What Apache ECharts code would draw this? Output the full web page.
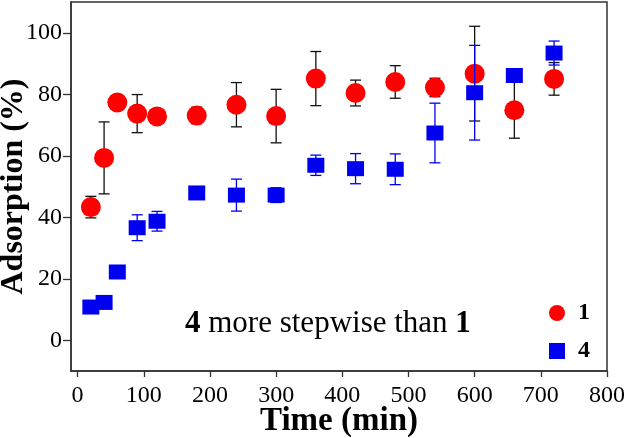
<!DOCTYPE html>
<html><head><meta charset="utf-8">
<script src="https://cdn.jsdelivr.net/npm/echarts@6/dist/echarts.min.js"></script>
<style>html,body{margin:0;padding:0;background:#fff}#c{width:634px;height:438px}</style>
</head><body><div id="c"></div>
<script>
const FONT = '"Liberation Serif", "Times New Roman", serif';
const times = [20, 40, 60, 90, 120, 180, 240, 300, 360, 420, 480, 540, 600, 660, 720];
const values1 = [43.3, 59.3, 77.3, 73.7, 72.8, 73.1, 76.6, 72.9, 85.1, 80.4, 84.0, 82.2, 86.7, 74.8, 85.0];
const errors1 = [3.5, 11.7, 2.0, 6.2, 2.0, 2.7, 7.2, 8.7, 8.8, 4.2, 5.3, 3.0, 15.4, 9.1, 5.3];
const values4 = [10.8, 12.3, 22.2, 36.6, 38.7, 47.9, 47.2, 47.2, 56.9, 55.8, 55.6, 67.4, 80.5, 86.1, 93.4];
const errors4 = [2.0, 2.0, 2.0, 4.2, 3.2, 2.0, 5.2, 2.4, 3.3, 4.9, 5.0, 9.7, 15.4, 2.0, 3.9];
const xTicks = [0, 100, 200, 300, 400, 500, 600, 700, 800];
const yTicks = [0, 20, 40, 60, 80, 100];
const seriesNames = ['1', '4'];

function errRender(color) {
  return function (params, api) {
    const x = api.value(0), y = api.value(1), e = api.value(2);
    const t = api.coord([x, y + e]), b = api.coord([x, y - e]);
    const hw = 5.5;
    const st = { stroke: color, lineWidth: 1.3 };
    return { type: 'group', children: [
      { type: 'line', shape: { x1: t[0], y1: t[1], x2: b[0], y2: b[1] }, style: st },
      { type: 'line', shape: { x1: t[0] - hw, y1: t[1], x2: t[0] + hw, y2: t[1] }, style: st },
      { type: 'line', shape: { x1: b[0] - hw, y1: b[1], x2: b[0] + hw, y2: b[1] }, style: st }
    ]};
  };
}

const chart = echarts.init(document.getElementById('c'), null, { renderer: 'canvas' });
chart.setOption({
  animation: false,
  backgroundColor: '#fff',
  grid: { left: 71, right: 27, top: 2, bottom: 67, show: true, borderColor: '#333', borderWidth: 1.5,
          backgroundColor: 'transparent', containLabel: false, outerBoundsMode: 'none' },
  title: {
    left: 180, top: 303,
    text: '{b|4} {n|more stepwise than} {b|1}',
    textStyle: {
      fontFamily: FONT, fontSize: 31, color: '#000',
      rich: {
        b: { fontFamily: FONT, fontSize: 31, fontWeight: 'bold', color: '#000' },
        n: { fontFamily: FONT, fontSize: 31, fontWeight: 'normal', color: '#000' }
      }
    }
  },
  legend: {
    orient: 'vertical', left: 544, top: 296, itemWidth: 16, itemHeight: 16, itemGap: 14,
    textStyle: { fontFamily: FONT, fontWeight: 'bold', fontSize: 24, color: '#000', padding: [0, 0, 0, 8] },
    data: [{ name: seriesNames[0], icon: 'circle' }, { name: seriesNames[1], icon: 'rect' }]
  },
  xAxis: {
    type: 'value', min: -10, max: 800,
    name: 'Time (min)', nameLocation: 'middle', nameGap: 34, nameMoveOverlap: false,
    nameTextStyle: { fontFamily: FONT, fontWeight: 'bold', fontSize: 33, color: '#000' },
    axisLine: { show: true, onZero: false, lineStyle: { color: '#333', width: 1.5 } },
    axisTick: { show: true, length: 6, customValues: xTicks, lineStyle: { color: '#333', width: 1.3 } },
    axisLabel: { customValues: xTicks, margin: 13, fontFamily: FONT, fontSize: 24, color: '#000' },
    splitLine: { show: false }
  },
  yAxis: {
    type: 'value', min: -10, max: 110,
    name: 'Adsorption (%)', nameLocation: 'middle', nameGap: 41, nameMoveOverlap: false,
    nameTextStyle: { fontFamily: FONT, fontWeight: 'bold', fontSize: 32, color: '#000' },
    axisLine: { show: true, onZero: false, lineStyle: { color: '#333', width: 1.5 } },
    axisTick: { show: true, length: 8, customValues: yTicks, lineStyle: { color: '#333', width: 1.3 } },
    axisLabel: { customValues: yTicks, margin: 9, fontFamily: FONT, fontSize: 24, color: '#000' },
    splitLine: { show: false }
  },
  series: [
    { name: 'err1', type: 'custom', z: 1, renderItem: errRender('#111'),
      data: times.map((t, i) => [t, values1[i], errors1[i]]), encode: { x: 0, y: 1 } },
    { name: seriesNames[0], type: 'scatter', z: 2, symbol: 'circle', symbolSize: 20,
      itemStyle: { color: '#ff0000', opacity: 1 },
      data: times.map((t, i) => [t, values1[i]]) },
    { name: 'err4', type: 'custom', z: 3, renderItem: errRender('#0000f0'),
      data: times.map((t, i) => [t, values4[i], errors4[i]]), encode: { x: 0, y: 1 } },
    { name: seriesNames[1], type: 'scatter', z: 4, symbol: 'rect', symbolSize: [17, 15],
      itemStyle: { color: '#0000f0', opacity: 1 },
      data: times.map((t, i) => [t, values4[i]]) }
  ]
});
</script>
</body></html>
